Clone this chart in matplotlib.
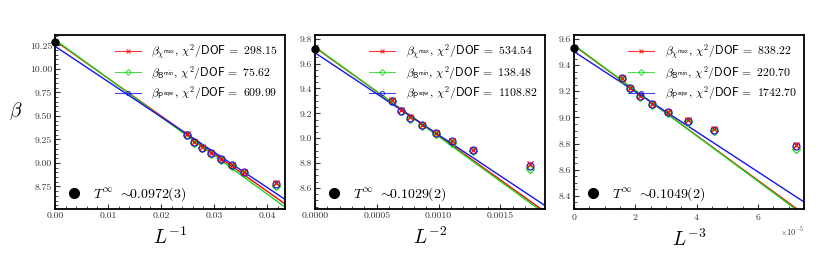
import numpy as np
import matplotlib as mpl
import matplotlib.pyplot as plt
from matplotlib.lines import Line2D
from matplotlib.ticker import AutoMinorLocator, MultipleLocator, FormatStrFormatter, ScalarFormatter

mpl.rcParams.update({
    "font.family": "serif",
    "font.serif": ["cmr10", "DejaVu Serif"],
    "mathtext.fontset": "cm",
    "axes.formatter.use_mathtext": True,
    "axes.linewidth": 1.3,
    "xtick.direction": "in",
    "ytick.direction": "in",
    "xtick.labelsize": 7,
    "ytick.labelsize": 7,
})

# ===== Data =====
L = np.array([40, 38, 36, 34, 32, 30, 28, 24])
beta_chi = np.array([9.305, 9.225, 9.167, 9.105, 9.042, 8.978, 8.908, 8.790])
beta_B = np.array([9.295, 9.215, 9.155, 9.095, 9.030, 8.965, 8.895, 8.755])
beta_P = np.array([9.300, 9.222, 9.163, 9.102, 9.040, 8.975, 8.905, 8.780])

exponents = [1, 2, 3]

# fit lines (intercept, slope) per panel
icpt_chi = [10.30, 9.73, 9.549]
icpt_B = [10.31, 9.735, 9.554]
icpt_P = [10.24, 9.687, 9.503]
slope_chi = [-40.0, -711.0, -17180.0]
slope_B = [-41.0, -722.0, -17370.0]
slope_P = [-37.5, -661.0, -15320.0]

chi2_chi = ["298.15", "534.54", "838.22"]
chi2_B = ["75.62", "138.48", "220.70"]
chi2_P = ["609.99", "1108.82", "1742.70"]

T_inf = [0.0972, 0.1029, 0.1049]
T_inf_text = ["0.0972(3)", "0.1029(2)", "0.1049(2)"]

xlims = [(0, 0.0434), (0, 0.00186), (0, 7.5e-5)]
ylims = [(8.51, 10.36), (8.43, 9.83), (8.30, 9.63)]
xmajor = [0.01, 0.0005, 2e-5]
ymajor = [0.25, 0.2, 0.2]
xfmt = ["%.2f", "%.4f", None]
yfmt = ["%.2f", "%.1f", "%.1f"]

series = [
    (beta_chi, icpt_chi, slope_chi, chi2_chi, "red", "x", r"$\beta_{\chi^{\mathsf{max}}}$"),
    (beta_B, icpt_B, slope_B, chi2_B, "#1ed61e", "D", r"$\beta_{\mathsf{B}^{\mathsf{min}}}$"),
    (beta_P, icpt_P, slope_P, chi2_P, "#1515e6", "o", r"$\beta_{\mathsf{P}^{\mathsf{eqw}}}$"),
]

# ===== Figure =====
fig = plt.figure(figsize=(8.3, 2.6), dpi=100)
lefts = [55 / 830, 315 / 830, 574 / 830]
axs = [fig.add_axes([l, 51 / 260, 230 / 830, 174 / 260]) for l in lefts]

for i, ax in enumerate(axs):
    p = exponents[i]
    x = 1.0 / L.astype(float) ** p
    xx = np.linspace(0, xlims[i][1], 50)

    handles = []
    for beta, icpt, slope, chi2, c, m, name in series:
        ax.plot(xx, icpt[i] + slope[i] * xx, color=c, lw=1.0, zorder=2)
        if m == "x":
            ax.plot(x, beta, ls="none", marker=m, ms=4, mew=0.9, color=c, zorder=4)
        else:
            ax.plot(x, beta, ls="none", marker=m, ms=4.5 if m == "D" else 5,
                    mfc="none", mec=c, mew=0.9, zorder=3)
        handles.append(Line2D([], [], color=c, lw=0.8, alpha=0.8, marker=m, ms=3,
                              mfc="none", mew=0.8,
                              label=name + r", $\chi^2/\mathsf{DOF}\,=$ " + chi2[i]))

    # extrapolated point
    ax.plot([0], [1.0 / T_inf[i]], "o", color="black", ms=5, zorder=5, clip_on=False)

    leg1 = ax.legend(handles=handles, loc="upper right", fontsize=8.5, frameon=False,
                     handlelength=2.2, labelspacing=0.2, borderaxespad=0.2,
                     handletextpad=0.9)
    ax.add_artist(leg1)
    dot = Line2D([], [], ls="none", marker="o", color="black", ms=7,
                 label=r"$T^{\infty}$ ${\sim}\!\!$" + T_inf_text[i])
    ax.legend(handles=[dot], loc="lower left", fontsize=10, frameon=False,
              handletextpad=0.3, borderaxespad=0.2, borderpad=0.2)

    ax.set_xlim(*xlims[i])
    ax.set_ylim(*ylims[i])
    ax.xaxis.set_major_locator(MultipleLocator(xmajor[i]))
    ax.yaxis.set_major_locator(MultipleLocator(ymajor[i]))
    ax.xaxis.set_minor_locator(AutoMinorLocator())
    ax.yaxis.set_minor_locator(AutoMinorLocator())
    if xfmt[i]:
        ax.xaxis.set_major_formatter(FormatStrFormatter(xfmt[i]))
    else:
        sf = ScalarFormatter(useMathText=True)
        sf.set_powerlimits((0, 0))
        ax.xaxis.set_major_formatter(sf)
        ax.xaxis.get_offset_text().set_fontsize(6)
    ax.yaxis.set_major_formatter(FormatStrFormatter(yfmt[i]))
    ax.tick_params(which="both", top=False, right=False, colors="#333333")
    ax.tick_params(which="major", length=3.5, width=0.8, pad=2)
    ax.tick_params(which="minor", length=2, width=0.6)
    ax.set_xlabel(r"$L^{-%d}$" % p, fontsize=14, labelpad=5)

axs[0].set_ylabel(r"$\beta$", fontsize=14, rotation=0, labelpad=10)

plt.savefig("out.png", dpi=100)
